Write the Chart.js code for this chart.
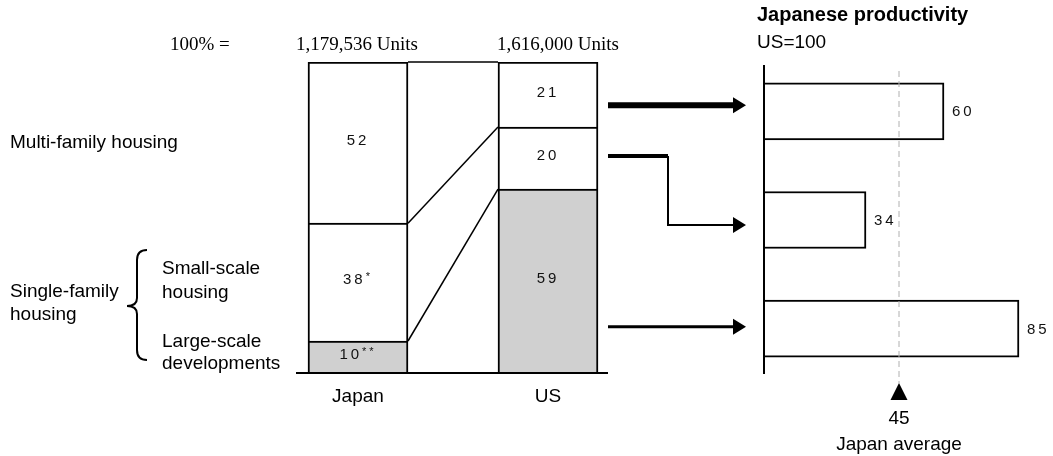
<!DOCTYPE html>
<html>
<head>
<meta charset="utf-8">
<script src="https://cdn.jsdelivr.net/npm/chart.js@4.4.1/dist/chart.umd.min.js"></script>
<style>
  html, body { margin: 0; padding: 0; background: #fff; }
  #wrap { position: relative; width: 1053px; height: 456px; }
  canvas { position: absolute; left: 0; top: 0; }
</style>
</head>
<body>
<div id="wrap">
  <canvas id="mix" width="1053" height="456"></canvas>
  <canvas id="prod" width="1053" height="456"></canvas>
</div>
<script>
// 住宅の構成比 (下から: 大規模開発, 小規模戸建, 集合住宅)
const countries = ['Japan', 'US'];
const totals = ['1,179,536 Units', '1,616,000 Units'];
const segments = ['Large-scale developments', 'Small-scale housing', 'Multi-family housing'];
const japanShare = [10, 38, 52];
const usShare = [59, 20, 21];
const japanNotes = ['**', '*', ''];
const segColors = ['#d0d0d0', '#ffffff', '#ffffff'];

// 日本の生産性 (US=100)
const prodCategories = ['Multi-family housing', 'Small-scale housing', 'Large-scale developments'];
const productivity = [60, 34, 85];
const japanAverage = 45;

const SANS = '"Liberation Sans", Arial, sans-serif';
const SERIF = '"Liberation Serif", "Times New Roman", serif';

function txt(ctx, s, x, y, font, align) {
    ctx.font = font;
    ctx.textAlign = align || 'left';
    ctx.textBaseline = 'middle';
    ctx.fillStyle = '#000';
    ctx.fillText(s, x, y);
}

// 数字 + 注記(*)を描く
function drawValue(ctx, num, note, x, cy, centered) {
    ctx.save();
    ctx.font = '15px ' + SANS;
    ctx.letterSpacing = '3px';
    ctx.textBaseline = 'middle';
    ctx.textAlign = 'left';
    ctx.fillStyle = '#111';
    const w1 = ctx.measureText(num).width;
    ctx.font = '11px ' + SANS;
    const w2 = note ? ctx.measureText(note).width : 0;
    if (centered) x = x - (w1 + w2) / 2;
    ctx.font = '15px ' + SANS;
    ctx.fillText(num, x, cy);
    if (note) {
        ctx.font = '11px ' + SANS;
        ctx.fillText(note, x + w1, cy - 3);
    }
    ctx.restore();
}

const mixDecor = {
    id: 'mixDecor',
    afterDatasetsDraw(chart) {
        const { ctx, scales: { y } } = chart;
        const metas = segments.map((_, i) => chart.getDatasetMeta(i));
        const jp = metas.map(m => m.data[0]);
        const us = metas.map(m => m.data[1]);
        ctx.save();

        // 棒同士をつなぐ線
        ctx.strokeStyle = '#000';
        ctx.lineWidth = 1.5;
        const jpRight = jp[0].x + jp[0].width / 2;
        const usLeft = us[0].x - us[0].width / 2;
        let cj = 0, cu = 0;
        for (let i = 0; i < segments.length; i++) {
            cj += japanShare[i];
            cu += usShare[i];
            ctx.beginPath();
            ctx.moveTo(jpRight, y.getPixelForValue(cj));
            ctx.lineTo(usLeft, y.getPixelForValue(cu));
            ctx.stroke();
        }

        // ベースライン
        ctx.lineWidth = 2;
        const by = y.getPixelForValue(0) + 1;
        ctx.beginPath();
        ctx.moveTo(jp[0].x - jp[0].width / 2 - 12, by);
        ctx.lineTo(us[0].x + us[0].width / 2 + 10, by);
        ctx.stroke();

        // 値ラベル
        for (let i = 0; i < segments.length; i++) {
            const a = jp[i], b = us[i];
            drawValue(ctx, String(japanShare[i]), japanNotes[i], a.x, (a.y + a.base) / 2 - 2, true);
            drawValue(ctx, String(usShare[i]), '', b.x, (b.y + b.base) / 2 - 2, true);
        }

        // 上部の合計
        txt(ctx, '100% =', 170, 45, '19px ' + SERIF);
        txt(ctx, totals[0], jp[0].x - 62, 45, '19px ' + SERIF);
        txt(ctx, totals[1], us[0].x - 51, 45, '19px ' + SERIF);

        // 左側のカテゴリ名
        const f = '19px ' + SANS;
        txt(ctx, 'Multi-family housing', 10, (jp[2].y + jp[2].base) / 2, f);
        txt(ctx, 'Single-family', 10, 292, f);
        txt(ctx, 'housing', 10, 315, f);
        txt(ctx, 'Small-scale', 162, 269, f);
        txt(ctx, 'housing', 162, 293, f);
        txt(ctx, 'Large-scale', 162, 342, f);
        txt(ctx, 'developments', 162, 364, f);

        // 波かっこ
        ctx.lineWidth = 2;
        ctx.beginPath();
        ctx.moveTo(147, 250);
        ctx.quadraticCurveTo(137, 250, 137, 260);
        ctx.lineTo(137, 298);
        ctx.quadraticCurveTo(137, 306, 127, 306);
        ctx.quadraticCurveTo(137, 306, 137, 314);
        ctx.lineTo(137, 350);
        ctx.quadraticCurveTo(137, 360, 147, 360);
        ctx.stroke();

        ctx.restore();
    }
};

const mixChart = new Chart(document.getElementById('mix').getContext('2d'), {
    type: 'bar',
    data: {
        labels: countries,
        datasets: segments.map((s, i) => ({
            label: s,
            data: [japanShare[i], usShare[i]],
            backgroundColor: segColors[i],
            borderColor: '#000',
            borderWidth: 2,
            barThickness: 100
        }))
    },
    options: {
        responsive: false,
        animation: false,
        layout: { padding: { left: 263, right: 410, top: 62, bottom: 0 } },
        plugins: { legend: { display: false }, tooltip: { enabled: false } },
        scales: {
            x: {
                stacked: true,
                grid: { display: false },
                border: { display: false },
                ticks: { color: '#000', font: { family: SANS, size: 19 }, padding: 5 },
                afterFit: (s) => { s.height = 84; }
            },
            y: { stacked: true, display: false, min: 0, max: 100 }
        }
    },
    plugins: [mixDecor]
});

const prodDecor = {
    id: 'prodDecor',
    afterDatasetsDraw(chart) {
        const { ctx, scales: { x, y } } = chart;
        const meta = chart.getDatasetMeta(0);
        const x0 = x.getPixelForValue(0);
        ctx.save();

        // 縦軸
        ctx.strokeStyle = '#000';
        ctx.lineWidth = 2;
        ctx.beginPath();
        ctx.moveTo(x0, y.top + 8);
        ctx.lineTo(x0, y.bottom - 9);
        ctx.stroke();

        // 平均の点線
        const xa = x.getPixelForValue(japanAverage);
        ctx.strokeStyle = '#b0b0b0';
        ctx.lineWidth = 1;
        ctx.setLineDash([6, 4]);
        ctx.beginPath();
        ctx.moveTo(xa, y.top + 14);
        ctx.lineTo(xa, y.bottom);
        ctx.stroke();
        ctx.setLineDash([]);

        // 三角マーカー
        ctx.fillStyle = '#000';
        ctx.beginPath();
        ctx.moveTo(xa, y.bottom);
        ctx.lineTo(xa + 8.5, y.bottom + 17);
        ctx.lineTo(xa - 8.5, y.bottom + 17);
        ctx.closePath();
        ctx.fill();
        txt(ctx, String(japanAverage), xa, y.bottom + 36, '19px ' + SANS, 'center');
        txt(ctx, 'Japan average', xa, y.bottom + 62, '19px ' + SANS, 'center');

        // 値ラベル
        meta.data.forEach((el, i) => {
            drawValue(ctx, String(productivity[i]), '', el.x + 8, el.y + 1, false);
        });

        // タイトル
        txt(ctx, 'Japanese productivity', 757, 15, 'bold 20px ' + SANS);
        txt(ctx, 'US=100', 757, 43, '19px ' + SANS);

        // 矢印
        const tip = x0 - 18;
        const sx = 608;
        const head = (ty) => {
            ctx.beginPath();
            ctx.moveTo(tip, ty);
            ctx.lineTo(tip - 13, ty - 8);
            ctx.lineTo(tip - 13, ty + 8);
            ctx.closePath();
            ctx.fill();
        };
        const seg = (pts, w) => {
            ctx.lineWidth = w;
            ctx.beginPath();
            ctx.moveTo(pts[0][0], pts[0][1]);
            for (let k = 1; k < pts.length; k++) ctx.lineTo(pts[k][0], pts[k][1]);
            ctx.stroke();
        };
        ctx.strokeStyle = '#000';
        ctx.lineCap = 'butt';
        const y1 = meta.data[0].y - 6;
        seg([[sx, y1], [tip - 12, y1]], 6);
        head(y1);
        const y2 = meta.data[1].y + 5;
        seg([[sx, 156], [668, 156]], 4);
        seg([[668, 156], [668, y2], [tip - 12, y2]], 2);
        head(y2);
        const y3 = meta.data[2].y - 2;
        seg([[sx, y3], [tip - 12, y3]], 3);
        head(y3);

        ctx.restore();
    }
};

const prodChart = new Chart(document.getElementById('prod').getContext('2d'), {
    type: 'bar',
    data: {
        labels: prodCategories,
        datasets: [{
            label: 'Japanese productivity',
            data: productivity,
            backgroundColor: '#ffffff',
            borderColor: '#000',
            borderWidth: 2,
            barThickness: 57
        }]
    },
    options: {
        indexAxis: 'y',
        responsive: false,
        animation: false,
        layout: { padding: { left: 764, right: 4, top: 57, bottom: 73 } },
        plugins: { legend: { display: false }, tooltip: { enabled: false } },
        scales: {
            x: { display: false, min: 0, max: 95 },
            y: { display: false }
        }
    },
    plugins: [prodDecor]
});
</script>
</body>
</html>
